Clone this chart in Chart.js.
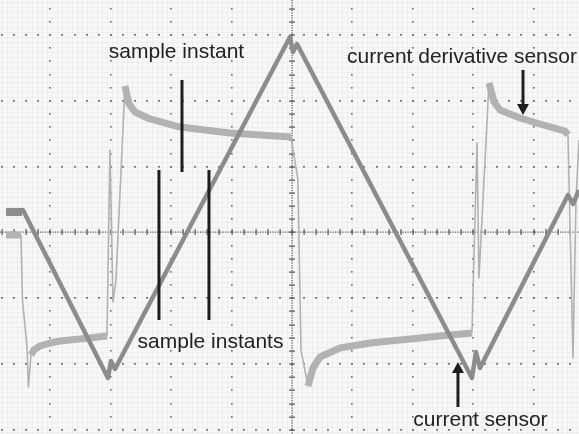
<!DOCTYPE html>
<html lang="en">
<head>
<meta charset="UTF-8">
<title>Current sensor and current derivative sensor</title>
<style>
  html, body { margin: 0; padding: 0; background: #fff; }
  canvas { display: block; }
</style>
</head>
<body>
<canvas id="scope" width="579" height="434"></canvas>
<script src="https://cdn.jsdelivr.net/npm/chart.js"></script>
<script>
// visible part of the scope screen, in divisions
const xRange = [-4.834, 4.752];
const yRange = [-3.062, 3.533];

// current sensor trace (time in div, level in div)
const currentT = [-4.735, -4.470, -4.454, -3.046, -2.997, -2.930, -0.033, 0.017, 0.083, 2.980, 3.046, 3.113, 4.570, 4.652, 4.752];
const currentV = [0.312, 0.312, 0.342, -2.211, -1.953, -2.074, 2.971, 2.743, 2.865, -2.211, -1.816, -2.059, 0.570, 0.433, 0.646];

// current derivative sensor trace
const derivT = [-4.735, -4.487, -4.462, -4.387, -4.363, -4.321, -4.272, -4.172, -4.007, -3.841, -3.510, -3.063,
  -3.013, -2.964, -2.914, -2.765, -2.699, -2.599, -2.351, -1.854, -1.026, -0.017,
  0.099, 0.149, 0.265, 0.348, 0.464, 0.795, 1.291, 1.788, 2.450, 2.980,
  3.063, 3.096, 3.262, 3.344, 3.444, 3.775, 4.106, 4.520, 4.570, 4.652, 4.702, 4.752];
const derivV = [-0.038, -0.038, -1.026, -1.740, -2.348, -1.862, -1.786, -1.725, -1.679, -1.649, -1.619, -1.573,
  1.254, -1.056, -0.722, 2.226, 1.953, 1.831, 1.725, 1.603, 1.512, 1.451,
  0.798, -1.786, -2.333, -2.059, -1.892, -1.755, -1.679, -1.634, -1.573, -1.527,
  1.360, -0.691, 2.272, 1.983, 1.862, 1.740, 1.649, 1.542, 1.482, -1.907, 0.494, 1.406];

// sample instant markers: time, top, bottom
const sampleT = [-2.202, -1.821, -1.374];
const sampleTop = [0.950, 2.318, 0.950];
const sampleBottom = [-1.330, 0.919, -1.330];

// arrows: time, tail level, tip level
const arrowT = [3.825, 2.748];
const arrowTail = [2.470, -2.652];
const arrowTip = [1.786, -1.968];

// annotation texts: centre time, baseline level
const labelText = ['sample instant', 'current derivative sensor', 'sample instants', 'current sensor'];
const labelT = [-1.912, 2.815, -1.349, 3.121];
const labelV = [2.652, 2.576, -1.755, -2.941];

const toPoints = (ts, vs) => ts.map((t, i) => ({ x: t, y: vs[i] }));

// pixel slope of a segment, used to thin out the fast edges
function steep(ctx) {
  const dx = Math.abs(ctx.p1.x - ctx.p0.x);
  const dy = Math.abs(ctx.p1.y - ctx.p0.y);
  return dy / Math.max(dx, 0.01);
}

const scopeGrid = {
  id: 'scopeGrid',
  beforeDatasetsDraw(chart) {
    const { ctx, chartArea: a, scales: { x, y } } = chart;
    ctx.save();
    ctx.fillStyle = '#f8f8f8';
    ctx.fillRect(a.left, a.top, a.width, a.height);

    // faint screen mesh
    ctx.strokeStyle = 'rgba(0,0,0,0.035)';
    ctx.lineWidth = 1;
    ctx.beginPath();
    for (let px = a.left + 2.5; px < a.right; px += 5) { ctx.moveTo(px, a.top); ctx.lineTo(px, a.bottom); }
    for (let py = a.top + 2.5; py < a.bottom; py += 5) { ctx.moveTo(a.left, py); ctx.lineTo(a.right, py); }
    ctx.stroke();

    const minorX = [], minorY = [];
    for (let k = Math.ceil(xRange[0] * 5); k <= xRange[1] * 5; k++) minorX.push(x.getPixelForValue(k / 5));
    for (let k = Math.ceil(yRange[0] * 5); k <= yRange[1] * 5; k++) minorY.push(y.getPixelForValue(k / 5));

    // dotted division lines
    ctx.fillStyle = '#6e6e6e';
    for (let i = -4; i <= 4; i++) {
      if (i === 0) continue;
      const px = Math.round(x.getPixelForValue(i));
      minorY.forEach(py => ctx.fillRect(px - 1, Math.round(py) - 1, 1.6, 1.6));
    }
    for (let j = -3; j <= 3; j++) {
      if (j === 0) continue;
      const py = Math.round(y.getPixelForValue(j));
      minorX.forEach(px => ctx.fillRect(Math.round(px) - 1, py - 1, 2, 1.6));
    }

    // centre axes with minor ticks
    const cx = Math.round(x.getPixelForValue(0));
    const cy = Math.round(y.getPixelForValue(0));
    ctx.fillStyle = '#555';
    for (let px = a.left; px < a.right; px += 2.5) ctx.fillRect(px, cy - 0.5, 1.2, 1.2);
    for (let py = a.top; py < a.bottom; py += 2.5) ctx.fillRect(cx - 0.5, py, 1.2, 1.2);
    minorX.forEach(px => ctx.fillRect(Math.round(px) - 0.5, cy - 3, 1.2, 6));
    minorY.forEach(py => ctx.fillRect(cx - 3, Math.round(py) - 0.5, 6, 1.2));
    ctx.restore();
  },
  afterDatasetsDraw(chart) {
    const { ctx, scales: { x, y } } = chart;
    ctx.save();
    ctx.strokeStyle = '#1e1e1e';
    ctx.fillStyle = '#1e1e1e';
    ctx.lineWidth = 3;
    ctx.lineCap = 'butt';

    // sample instant markers
    sampleT.forEach((t, i) => {
      const px = x.getPixelForValue(t);
      ctx.beginPath();
      ctx.moveTo(px, y.getPixelForValue(sampleTop[i]));
      ctx.lineTo(px, y.getPixelForValue(sampleBottom[i]));
      ctx.stroke();
    });

    // arrows
    arrowT.forEach((t, i) => {
      const px = x.getPixelForValue(t);
      const tail = y.getPixelForValue(arrowTail[i]);
      const tip = y.getPixelForValue(arrowTip[i]);
      const dir = Math.sign(tip - tail);
      const base = tip - dir * 11;
      ctx.beginPath();
      ctx.moveTo(px, tail);
      ctx.lineTo(px, base);
      ctx.stroke();
      ctx.beginPath();
      ctx.moveTo(px, tip);
      ctx.lineTo(px - 6, base);
      ctx.lineTo(px + 6, base);
      ctx.closePath();
      ctx.fill();
    });

    // texts
    ctx.fillStyle = '#222';
    ctx.font = '21px "Liberation Sans", Arial, sans-serif';
    ctx.textAlign = 'center';
    ctx.textBaseline = 'alphabetic';
    labelText.forEach((s, i) => ctx.fillText(s, x.getPixelForValue(labelT[i]), y.getPixelForValue(labelV[i])));
    ctx.restore();
  }
};

new Chart(document.getElementById('scope'), {
  type: 'line',
  data: {
    datasets: [
      {
        label: 'current sensor',
        data: toPoints(currentT, currentV),
        borderColor: '#8c8c8c',
        borderWidth: 4.5,
        borderJoinStyle: 'round',
        segment: { borderWidth: c => steep(c) < 0.1 ? 8 : 4.5 }
      },
      {
        label: 'current derivative sensor',
        data: toPoints(derivT, derivV),
        borderColor: '#b2b2b2',
        borderWidth: 7,
        borderJoinStyle: 'round',
        segment: { borderWidth: c => steep(c) > 5 ? 1.6 : 7 }
      }
    ]
  },
  options: {
    responsive: false,
    animation: false,
    devicePixelRatio: 1,
    layout: { padding: 0 },
    elements: { point: { radius: 0 }, line: { tension: 0 } },
    plugins: { legend: { display: false }, tooltip: { enabled: false } },
    scales: {
      x: { type: 'linear', min: xRange[0], max: xRange[1], display: false },
      y: { type: 'linear', min: yRange[0], max: yRange[1], display: false }
    }
  },
  plugins: [scopeGrid]
});
</script>
</body>
</html>
